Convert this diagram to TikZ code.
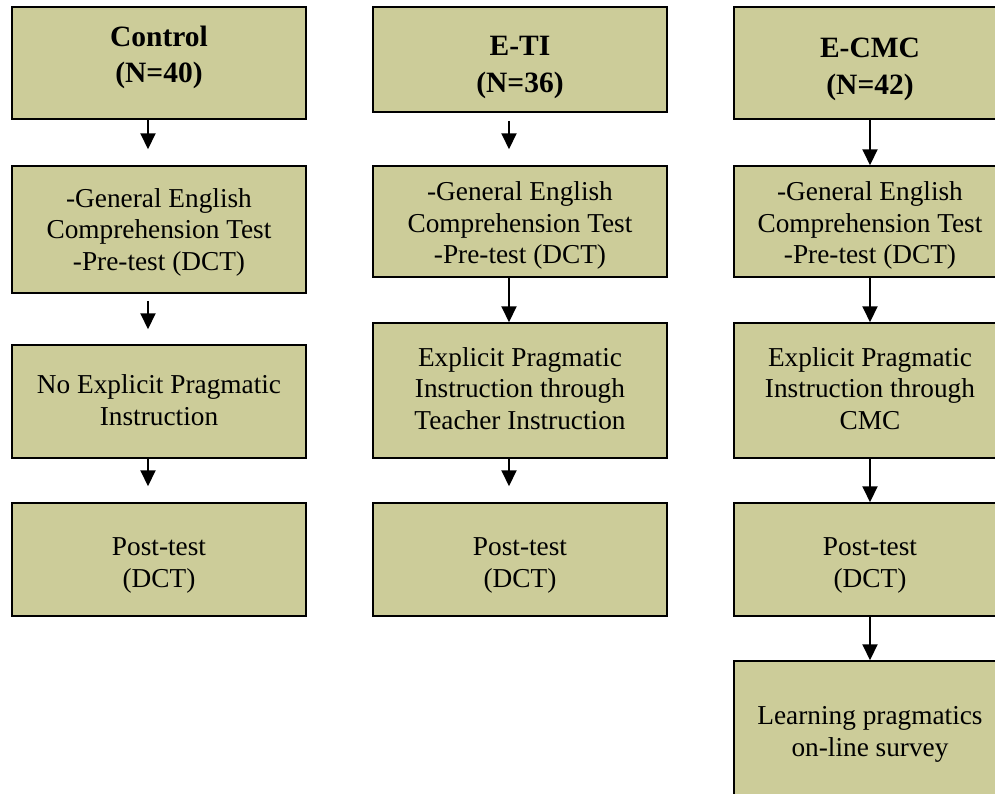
\documentclass[tikz,border=0pt]{standalone}
\usepackage{fontspec}
\setmainfont{Liberation Serif}
\usetikzlibrary{arrows.meta}
\usetikzlibrary{positioning}
\definecolor{boxfill}{RGB}{204,204,153}
\newcommand{\lines}[2][-4pt]{\raisebox{#1}[\height][\depth]{\begin{tabular}{@{}c@{}}#2\end{tabular}}}
\tikzset{box/.style = {draw, line width=1.5pt, fill=boxfill, align=center, inner sep=0,
                       font=\fontsize{27.3}{31.5}\selectfont}}
\tikzset{head/.style = {box, font=\bfseries\fontsize{29.5}{36.5}\selectfont}}
\tikzset{wide/.style = {minimum width=294}}
\tikzset{narrow/.style = {minimum width=272}}
\tikzset{flow/.style = {-{Triangle[width=15pt, length=16pt]}, line width=2pt}}

\begin{document}
\begin{tikzpicture}[x=1pt, y=-1pt]
          \clip (0, 0) rectangle (995, 793);
          % control group
          \node [head, wide, minimum height=112] (ctrl) at (159, 63) {\lines[6pt]{Control\\(N=40)}};
          \node [box, wide, minimum height=127] (ctrlpre) at (159, 229.5) {\lines[-3pt]{-General English\\Comprehension Test\\-Pre-test (DCT)}};
          \node [box, wide, minimum height=113] (ctrlins) at (159, 401.5) {\lines[-1.5pt]{No Explicit Pragmatic\\Instruction}};
          \node [box, wide, minimum height=113] (ctrlpost) at (159, 559.5) {\lines[-5.5pt]{Post-test\\(DCT)}};
          % teacher instruction group
          \node [head, wide, minimum height=105] (eti) at (520, 59.5) {\lines[-7pt]{E-TI\\(N=36)}};
          \node [box, wide, minimum height=111] (etipre) at (520, 221.5) {\lines[-4.5pt]{-General English\\Comprehension Test\\-Pre-test (DCT)}};
          \node [box, wide, minimum height=135] (etiins) at (520, 390.5) {\lines[-1pt]{Explicit Pragmatic\\Instruction through\\Teacher Instruction}};
          \node [box, wide, minimum height=113] (etipost) at (520, 559.5) {\lines[-5.5pt]{Post-test\\(DCT)}};
          % CMC group
          \node [head, narrow, minimum height=112] (ecmc) at (870, 63) {\lines[-5.5pt]{E-CMC\\(N=42)}};
          \node [box, narrow, minimum height=111] (ecmcpre) at (870, 221.5) {\lines[-4.5pt]{-General English\\Comprehension Test\\-Pre-test (DCT)}};
          \node [box, narrow, minimum height=135] (ecmcins) at (870, 390.5) {\lines[-1pt]{Explicit Pragmatic\\Instruction through\\CMC}};
          \node [box, narrow, minimum height=113] (ecmcpost) at (870, 559.5) {\lines[-5.5pt]{Post-test\\(DCT)}};
          \node [box, narrow, minimum height=139] (ecmcsurvey) at (870, 730.5) {\lines[-3.5pt]{Learning pragmatics\\on-line survey}};
          % arrows
          \draw [flow] ([xshift=-11pt]ctrl.south) -- ([xshift=-11pt, yshift=16pt]ctrlpre.north);
          \draw [flow] ([xshift=-11pt, yshift=-7pt]ctrlpre.south) -- ([xshift=-11pt, yshift=15pt]ctrlins.north);
          \draw [flow] ([xshift=-11pt]ctrlins.south) -- ([xshift=-11pt, yshift=16pt]ctrlpost.north);
          \draw [flow] ([xshift=-11pt, yshift=-8pt]eti.south) -- ([xshift=-11pt, yshift=16pt]etipre.north);
          \draw [flow] ([xshift=-11pt]etipre.south) -- ([xshift=-11pt]etiins.north);
          \draw [flow] ([xshift=-11pt]etiins.south) -- ([xshift=-11pt, yshift=16pt]etipost.north);
          \draw [flow] (ecmc) -- (ecmcpre);
          \draw [flow] (ecmcpre) -- (ecmcins);
          \draw [flow] (ecmcins) -- (ecmcpost);
          \draw [flow] (ecmcpost) -- (ecmcsurvey);
        \end{tikzpicture}
\end{document}
